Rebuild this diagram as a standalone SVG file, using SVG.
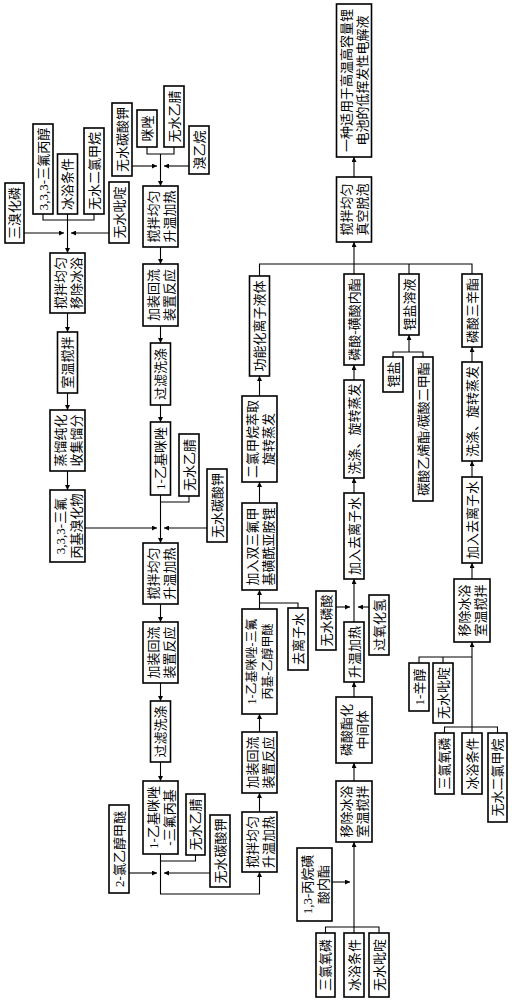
<svg xmlns="http://www.w3.org/2000/svg" width="512" height="1000" viewBox="0 0 512 1000">
<style>
.b rect{fill:#fff;stroke:#000;stroke-width:1.6}
text{font-family:"Liberation Serif","Noto Sans CJK SC",serif;font-size:13px;text-anchor:middle;dominant-baseline:central;fill:#000}
#connectors path{fill:none;stroke:#000;stroke-width:1.1}
</style>
<defs>
<marker id="ah" viewBox="0 0 8 8" refX="8" refY="4" markerWidth="5" markerHeight="5" markerUnits="userSpaceOnUse" orient="auto"><path d="M0,0 L8,4 L0,8 Z" fill="#000"/></marker>
</defs>
<rect width="512" height="1000" fill="#fff"/>
<g id="connectors">
<path d="M43,214 V220 H94 V214"/>
<path d="M67.5,214 V253" marker-end="url(#ah)"/>
<path d="M24,233 H64" marker-end="url(#ah)"/>
<path d="M109,233 H71" marker-end="url(#ah)"/>
<path d="M67.5,313 V332" marker-end="url(#ah)"/>
<path d="M67.5,393 V410" marker-end="url(#ah)"/>
<path d="M67.5,471 V490" marker-end="url(#ah)"/>
<path d="M85,528 H157" marker-end="url(#ah)"/>
<path d="M147,147 V154 H174 V147"/>
<path d="M160.5,154 V186" marker-end="url(#ah)"/>
<path d="M132,166 H157" marker-end="url(#ah)"/>
<path d="M189,166 H164" marker-end="url(#ah)"/>
<path d="M160.5,247 V264" marker-end="url(#ah)"/>
<path d="M160.5,326 V343" marker-end="url(#ah)"/>
<path d="M160.5,405 V422" marker-end="url(#ah)"/>
<path d="M189,496 V502 H160.5"/>
<path d="M160.5,495 V543" marker-end="url(#ah)"/>
<path d="M207,528 H164" marker-end="url(#ah)"/>
<path d="M160.5,604 V622" marker-end="url(#ah)"/>
<path d="M160.5,683 V701" marker-end="url(#ah)"/>
<path d="M160.5,762 V781" marker-end="url(#ah)"/>
<path d="M195.5,855 V861 H160.5"/>
<path d="M160.5,854 V894 H259.5 V872" marker-end="url(#ah)"/>
<path d="M129,873 H157" marker-end="url(#ah)"/>
<path d="M210,873 H164" marker-end="url(#ah)"/>
<path d="M259.5,812 V793" marker-end="url(#ah)"/>
<path d="M259.5,732 V714" marker-end="url(#ah)"/>
<path d="M298,608 V603 H259.5"/>
<path d="M259.5,609 V590" marker-end="url(#ah)"/>
<path d="M259.5,503 V482" marker-end="url(#ah)"/>
<path d="M259.5,396 V376" marker-end="url(#ah)"/>
<path d="M259.5,276 V264 H472 V274"/>
<path d="M354,274 V264"/>
<path d="M409,274 V264"/>
<path d="M354,264 V242" marker-end="url(#ah)"/>
<path d="M354,177 V157" marker-end="url(#ah)"/>
<path d="M354,380 V365" marker-end="url(#ah)"/>
<path d="M354,493 V478" marker-end="url(#ah)"/>
<path d="M354,622 V579" marker-end="url(#ah)"/>
<path d="M336,607 H350" marker-end="url(#ah)"/>
<path d="M369,607 H358" marker-end="url(#ah)"/>
<path d="M354,697 V682" marker-end="url(#ah)"/>
<path d="M354,781 V763" marker-end="url(#ah)"/>
<path d="M325.5,933 V927 H379 V933"/>
<path d="M354,933 V842" marker-end="url(#ah)"/>
<path d="M332,882 H350" marker-end="url(#ah)"/>
<path d="M393,357 V352 H423 V357"/>
<path d="M409,352 V335" marker-end="url(#ah)"/>
<path d="M472,362 V347" marker-end="url(#ah)"/>
<path d="M472,477 V461" marker-end="url(#ah)"/>
<path d="M472,579 V563" marker-end="url(#ah)"/>
<path d="M472,727 V642" marker-end="url(#ah)"/>
<path d="M419,663 V657 H472"/>
<path d="M443,663 V657"/>
<path d="M444.5,733 V727 H497.5 V733"/>
<path d="M472,733 V727"/>
</g>
<g id="n1" class="b"><rect x="5" y="183" width="19" height="60"/><text transform="translate(14.5,213) rotate(-90)">三溴化磷</text></g>
<g id="n2" class="b"><rect x="33" y="124" width="20" height="90"/><text transform="translate(43,169) rotate(-90)">3,3,3-三氟丙醇</text></g>
<g id="n3" class="b"><rect x="57.5" y="154" width="20" height="60"/><text transform="translate(67.5,184) rotate(-90)">冰浴条件</text></g>
<g id="n4" class="b"><rect x="84" y="128" width="20" height="86"/><text transform="translate(94,171) rotate(-90)">无水二氯甲烷</text></g>
<g id="n5" class="b"><rect x="109" y="182" width="20" height="61"/><text transform="translate(119,212.5) rotate(-90)">无水吡啶</text></g>
<g id="n6" class="b"><rect x="50" y="253" width="35" height="60"/><text transform="translate(67.5,283) rotate(-90)"><tspan x="0" y="-8">搅拌均匀</tspan><tspan x="0" y="8">移除冰浴</tspan></text></g>
<g id="n7" class="b"><rect x="57.5" y="332" width="20" height="61"/><text transform="translate(67.5,362.5) rotate(-90)">室温搅拌</text></g>
<g id="n8" class="b"><rect x="50" y="410" width="35" height="61"/><text transform="translate(67.5,440.5) rotate(-90)"><tspan x="0" y="-8">蒸馏纯化</tspan><tspan x="0" y="8">收集馏分</tspan></text></g>
<g id="n9" class="b"><rect x="50" y="490" width="35" height="72"/><text transform="translate(67.5,526) rotate(-90)"><tspan x="0" y="-8">3,3,3-三氟</tspan><tspan x="0" y="8">丙基溴化物</tspan></text></g>
<g id="n10" class="b"><rect x="112" y="103" width="20" height="73"/><text transform="translate(122,139.5) rotate(-90)">无水碳酸钾</text></g>
<g id="n11" class="b"><rect x="137" y="110" width="20" height="37"/><text transform="translate(147,128.5) rotate(-90)">咪唑</text></g>
<g id="n12" class="b"><rect x="164" y="86" width="20" height="61"/><text transform="translate(174,116.5) rotate(-90)">无水乙腈</text></g>
<g id="n13" class="b"><rect x="189" y="126" width="20" height="48"/><text transform="translate(199,150) rotate(-90)">溴乙烷</text></g>
<g id="n14" class="b"><rect x="143" y="186" width="35" height="61"/><text transform="translate(160.5,216.5) rotate(-90)"><tspan x="0" y="-8">搅拌均匀</tspan><tspan x="0" y="8">升温加热</tspan></text></g>
<g id="n15" class="b"><rect x="143" y="264" width="35" height="62"/><text transform="translate(160.5,295) rotate(-90)"><tspan x="0" y="-8">加装回流</tspan><tspan x="0" y="8">装置反应</tspan></text></g>
<g id="n16" class="b"><rect x="150.5" y="343" width="20" height="62"/><text transform="translate(160.5,374) rotate(-90)">过滤洗涤</text></g>
<g id="n17" class="b"><rect x="150.5" y="422" width="20" height="73"/><text transform="translate(160.5,458.5) rotate(-90)">1-乙基咪唑</text></g>
<g id="n18" class="b"><rect x="179" y="434" width="20" height="62"/><text transform="translate(189,465) rotate(-90)">无水乙腈</text></g>
<g id="n19" class="b"><rect x="207" y="469" width="20" height="73"/><text transform="translate(217,505.5) rotate(-90)">无水碳酸钾</text></g>
<g id="n20" class="b"><rect x="143" y="543" width="35" height="61"/><text transform="translate(160.5,573.5) rotate(-90)"><tspan x="0" y="-8">搅拌均匀</tspan><tspan x="0" y="8">升温加热</tspan></text></g>
<g id="n21" class="b"><rect x="143" y="622" width="35" height="61"/><text transform="translate(160.5,652.5) rotate(-90)"><tspan x="0" y="-8">加装回流</tspan><tspan x="0" y="8">装置反应</tspan></text></g>
<g id="n22" class="b"><rect x="150.5" y="701" width="20" height="61"/><text transform="translate(160.5,731.5) rotate(-90)">过滤洗涤</text></g>
<g id="n23" class="b"><rect x="143" y="781" width="35" height="73"/><text transform="translate(160.5,817.5) rotate(-90)"><tspan x="0" y="-8">1-乙基咪唑</tspan><tspan x="0" y="8">-三氟丙基</tspan></text></g>
<g id="n24" class="b"><rect x="186" y="794" width="19" height="61"/><text transform="translate(195.5,824.5) rotate(-90)">无水乙腈</text></g>
<g id="n25" class="b"><rect x="210" y="815" width="20" height="72"/><text transform="translate(220,851) rotate(-90)">无水碳酸钾</text></g>
<g id="n26" class="b"><rect x="109" y="805" width="20" height="88"/><text transform="translate(119,849) rotate(-90)">2-氯乙醇甲醚</text></g>
<g id="n27" class="b"><rect x="242" y="812" width="35" height="60"/><text transform="translate(259.5,842) rotate(-90)"><tspan x="0" y="-8">搅拌均匀</tspan><tspan x="0" y="8">升温加热</tspan></text></g>
<g id="n28" class="b"><rect x="242" y="732" width="35" height="61"/><text transform="translate(259.5,762.5) rotate(-90)"><tspan x="0" y="-8">加装回流</tspan><tspan x="0" y="8">装置反应</tspan></text></g>
<g id="n29" class="b"><rect x="242" y="609" width="35" height="105"/><text transform="translate(259.5,661.5) rotate(-90)" style="font-size:12px"><tspan x="0" y="-8">1-乙基咪唑-三氟</tspan><tspan x="0" y="8">丙基-乙醇甲醚</tspan></text></g>
<g id="n30" class="b"><rect x="288" y="608" width="20" height="62"/><text transform="translate(298,639) rotate(-90)">去离子水</text></g>
<g id="n31" class="b"><rect x="242" y="503" width="35" height="87"/><text transform="translate(259.5,546.5) rotate(-90)"><tspan x="0" y="-8">加入双三氟甲</tspan><tspan x="0" y="8">基磺酰亚胺锂</tspan></text></g>
<g id="n32" class="b"><rect x="242" y="396" width="35" height="86"/><text transform="translate(259.5,439) rotate(-90)"><tspan x="0" y="-8">二氯甲烷萃取</tspan><tspan x="0" y="8">旋转蒸发</tspan></text></g>
<g id="n33" class="b"><rect x="249.5" y="276" width="20" height="100"/><text transform="translate(259.5,326) rotate(-90)">功能化离子液体</text></g>
<g id="n34" class="b"><rect x="336.5" y="4" width="35" height="153"/><text transform="translate(354,80.5) rotate(-90)"><tspan x="0" y="-8">一种适用于高温高容量锂</tspan><tspan x="0" y="8">电池的低挥发性电解液</tspan></text></g>
<g id="n35" class="b"><rect x="336.5" y="177" width="35" height="65"/><text transform="translate(354,209.5) rotate(-90)"><tspan x="0" y="-8">搅拌均匀</tspan><tspan x="0" y="8">真空脱泡</tspan></text></g>
<g id="n36" class="b"><rect x="344" y="274" width="20" height="91"/><text transform="translate(354,319.5) rotate(-90)">磷酸-磺酸内酯</text></g>
<g id="n37" class="b"><rect x="344" y="380" width="20" height="98"/><text transform="translate(354,429) rotate(-90)">洗涤、旋转蒸发</text></g>
<g id="n38" class="b"><rect x="344" y="493" width="20" height="86"/><text transform="translate(354,536) rotate(-90)">加入去离子水</text></g>
<g id="n39" class="b"><rect x="316" y="591" width="20" height="59"/><text transform="translate(326,620.5) rotate(-90)">无水磷酸</text></g>
<g id="n40" class="b"><rect x="344" y="622" width="20" height="60"/><text transform="translate(354,652) rotate(-90)">升温加热</text></g>
<g id="n41" class="b"><rect x="369" y="595" width="20" height="60"/><text transform="translate(379,625) rotate(-90)">过氧化氢</text></g>
<g id="n42" class="b"><rect x="336" y="697" width="36" height="66"/><text transform="translate(354,730) rotate(-90)"><tspan x="0" y="-8">磷酸酯化</tspan><tspan x="0" y="8">中间体</tspan></text></g>
<g id="n43" class="b"><rect x="336" y="781" width="36" height="61"/><text transform="translate(354,811.5) rotate(-90)"><tspan x="0" y="-8">移除冰浴</tspan><tspan x="0" y="8">室温搅拌</tspan></text></g>
<g id="n44" class="b"><rect x="297" y="848" width="35" height="73"/><text transform="translate(314.5,884.5) rotate(-90)"><tspan x="0" y="-8">1,3-丙烷磺</tspan><tspan x="0" y="8">酸内酯</tspan></text></g>
<g id="n45" class="b"><rect x="316" y="933" width="19" height="64"/><text transform="translate(325.5,965) rotate(-90)">三氯氧磷</text></g>
<g id="n46" class="b"><rect x="344" y="933" width="20" height="64"/><text transform="translate(354,965) rotate(-90)">冰浴条件</text></g>
<g id="n47" class="b"><rect x="369" y="933" width="20" height="64"/><text transform="translate(379,965) rotate(-90)">无水吡啶</text></g>
<g id="n48" class="b"><rect x="399" y="274" width="20" height="61"/><text transform="translate(409,304.5) rotate(-90)">锂盐溶液</text></g>
<g id="n49" class="b"><rect x="383" y="357" width="20" height="35"/><text transform="translate(393,374.5) rotate(-90)">锂盐</text></g>
<g id="n50" class="b"><rect x="413" y="357" width="20" height="144"/><text transform="translate(423,429) rotate(-90)">碳酸乙烯酯/碳酸二甲酯</text></g>
<g id="n51" class="b"><rect x="462" y="274" width="20" height="73"/><text transform="translate(472,310.5) rotate(-90)">磷酸三辛酯</text></g>
<g id="n52" class="b"><rect x="462" y="362" width="20" height="99"/><text transform="translate(472,411.5) rotate(-90)">洗涤、旋转蒸发</text></g>
<g id="n53" class="b"><rect x="462" y="477" width="20" height="86"/><text transform="translate(472,520) rotate(-90)">加入去离子水</text></g>
<g id="n54" class="b"><rect x="454" y="579" width="36" height="63"/><text transform="translate(472,610.5) rotate(-90)"><tspan x="0" y="-8">移除冰浴</tspan><tspan x="0" y="8">室温搅拌</tspan></text></g>
<g id="n55" class="b"><rect x="409" y="663" width="20" height="48"/><text transform="translate(419,687) rotate(-90)">1-辛醇</text></g>
<g id="n56" class="b"><rect x="433" y="663" width="20" height="60"/><text transform="translate(443,693) rotate(-90)">无水吡啶</text></g>
<g id="n57" class="b"><rect x="435" y="733" width="19" height="61"/><text transform="translate(444.5,763.5) rotate(-90)">三氯氧磷</text></g>
<g id="n58" class="b"><rect x="462" y="733" width="20" height="61"/><text transform="translate(472,763.5) rotate(-90)">冰浴条件</text></g>
<g id="n59" class="b"><rect x="488" y="733" width="19" height="89"/><text transform="translate(497.5,777.5) rotate(-90)">无水二氯甲烷</text></g>
</svg>
